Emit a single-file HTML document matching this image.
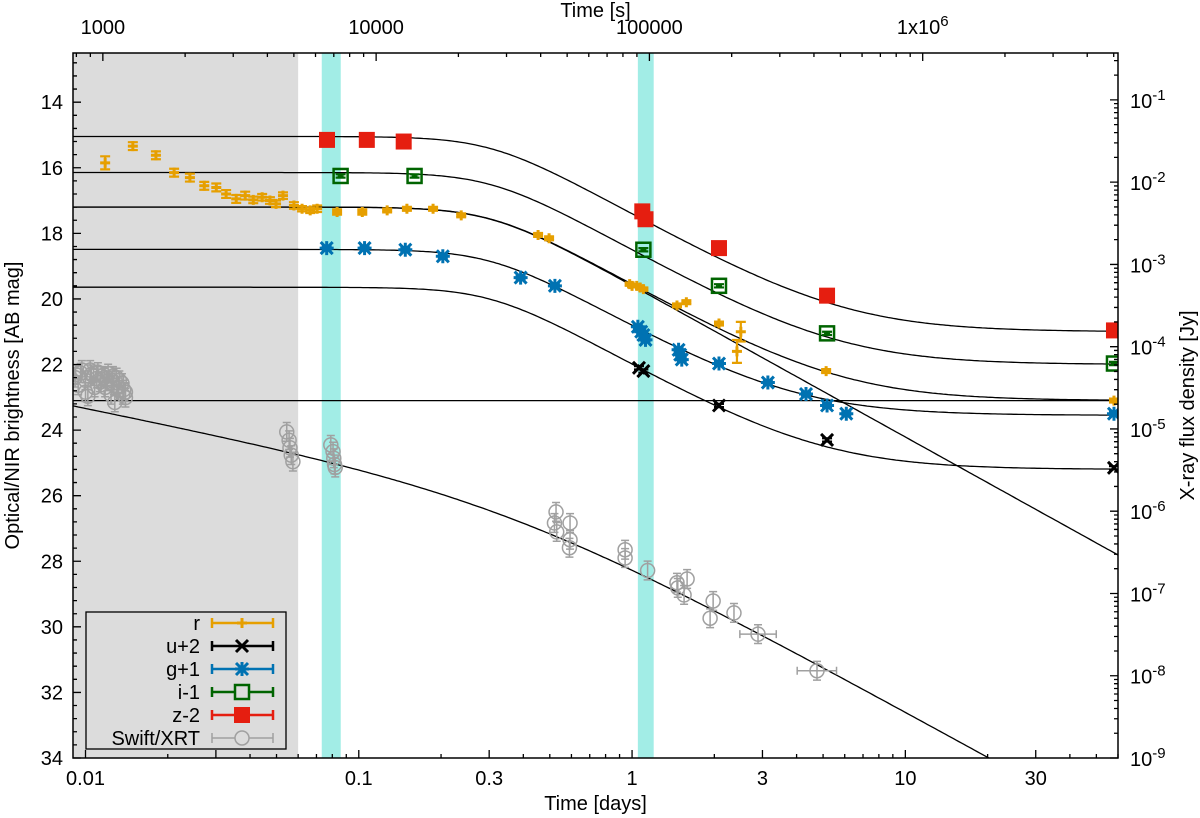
<!DOCTYPE html>
<html><head><meta charset="utf-8"><style>
body{margin:0;background:#fff;}
svg{display:block;font-family:"Liberation Sans",Arial,sans-serif;}
</style></head><body>
<svg id="chart" width="1200" height="818" viewBox="0 0 1200 818" xmlns="http://www.w3.org/2000/svg">
<defs><clipPath id="pc"><rect x="73" y="53" width="1045" height="705"/></clipPath></defs>
<g id="bg"></g>
<g id="models" clip-path="url(#pc)"></g>
<g id="data" clip-path="url(#pc)"></g>
<g id="axes"></g>
<g id="legend"></g>
</svg>
<script>
// ---------- data ----------
const rT=[0.0118,0.0149,0.0181,0.0211,0.0241,0.0272,0.0301,0.0327,0.0356,0.0384,0.0411,0.0443,0.0473,0.0498,0.0528,0.0579,0.0620,0.0664,0.0704,0.0833,0.103,0.127,0.150,0.187,0.237,0.453,0.497,0.98,1.0,1.04,1.07,1.10,1.46,1.58,2.08,2.50,2.42,5.13,58];
const rM=[15.85,15.34,15.62,16.15,16.3,16.55,16.6,16.8,16.95,16.85,16.98,16.9,17.0,17.1,16.85,17.15,17.25,17.3,17.25,17.35,17.35,17.3,17.25,17.25,17.45,18.05,18.15,19.55,19.6,19.6,19.65,19.7,20.2,20.1,20.75,21.0,21.6,22.2,23.1];
const rE=[0.2,0.12,0.12,0.12,0.12,0.12,0.12,0.12,0.12,0.12,0.1,0.1,0.1,0.1,0.1,0.1,0.08,0.08,0.1,0.08,0.08,0.06,0.06,0.06,0.06,0.06,0.06,0.05,0.05,0.05,0.05,0.05,0.06,0.06,0.06,0.3,0.35,0.06,0.06];
const uT=[1.06,1.10,2.08,5.17,58];
const uM=[22.1,22.2,23.25,24.3,25.15];
const gT=[0.0763,0.105,0.148,0.203,0.391,0.522,1.05,1.08,1.10,1.12,1.48,1.50,1.52,2.08,3.14,4.33,5.17,6.08,58];
const gM=[18.45,18.45,18.5,18.7,19.35,19.6,20.85,21.0,21.1,21.25,21.55,21.7,21.85,21.97,22.55,22.9,23.25,23.5,23.5];
const iT=[0.0858,0.160,1.10,2.08,5.17,58];
const iM=[16.25,16.25,18.5,19.6,21.05,21.97];
const zT=[0.0765,0.107,0.146,1.09,1.12,2.08,5.17,58];
const zM=[15.15,15.15,15.2,17.33,17.57,18.45,19.9,20.96];
const xT=[0.00916,0.0094,0.0097,0.0100,0.0104,0.0107,0.0111,0.0113,0.0117,0.0121,0.0125,0.0127,0.0130,0.0132,0.0136,0.0140,0.0100,0.0102,0.0124,0.0128,0.0140,0.0108,0.0118,0.0137,0.0092,0.0096,0.0105,0.0110,0.0115,0.0120,0.0126,0.0133,0.0138,
 0.0545,0.0556,0.0560,0.0566,0.0574,0.079,0.0805,0.081,0.0815,0.082,
 0.527,0.520,0.530,0.593,0.593,0.590,0.943,0.943,1.14,1.46,1.47,1.59,1.55,1.98,1.93,2.36,2.89,4.75];
const xF=[4.2e-5,3.4e-5,5.2e-5,3.9e-5,5.2e-5,4.4e-5,4.9e-5,3.7e-5,4.2e-5,4.7e-5,3.9e-5,3.4e-5,4.2e-5,3.2e-5,3.6e-5,2.8e-5,2.8e-5,2.5e-5,2.6e-5,2.1e-5,2.4e-5,3.2e-5,3.2e-5,2.6e-5,4.6e-5,4.8e-5,4.6e-5,4.1e-5,4.4e-5,3.8e-5,4.4e-5,3.9e-5,3.0e-5,
 9.2e-6,7.3e-6,5.9e-6,4.8e-6,4.0e-6,6.4e-6,5.3e-6,4.4e-6,3.7e-6,3.4e-6,
 9.8e-7,7.2e-7,5.6e-7,7.2e-7,4.5e-7,3.6e-7,3.4e-7,2.7e-7,1.9e-7,1.35e-7,1.17e-7,1.5e-7,9.6e-8,8.1e-8,5.0e-8,5.8e-8,3.2e-8,1.15e-8];
const xTlo=[2.48,4.02];
const xThi=[3.37,5.60];
const agPlateau=[15.05,16.15,17.2,18.5,19.65];
const hostMag=[21.0,22.0,23.1,23.55,25.2];
const agBreak=[0.305,1.85];
const xrtModel=[0.349,25.9,0.668,1.836];
const xTickLabels=["0.01","0.1","0.3","1","3","10","30"];
const xTickVals=[0.01,0.1,0.3,1,3,10,30];
const yTickVals=[14,16,18,20,22,24,26,28,30,32,34];
const sTickVals=[1000,10000,100000,1000000];
const fTickExp=[-1,-2,-3,-4,-5,-6,-7,-8,-9];

const L=73,R=1118,T=53,B=758;
const lt0=Math.log10(0.009),lt1=Math.log10(60);
const X=t=>L+(Math.log10(t)-lt0)/(lt1-lt0)*(R-L);
const Y=m=>T+(m-12.5)/21.5*(B-T);
const YF=f=>B-(Math.log10(f)+9)*(B-T)/(-0.43+9);
const NS="http://www.w3.org/2000/svg";
function el(tag,at,parent){const e=document.createElementNS(NS,tag);for(const k in at)e.setAttribute(k,at[k]);if(parent)parent.appendChild(e);return e;}
const bg=document.getElementById('bg'),mg=document.getElementById('models'),dg=document.getElementById('data'),ax=document.getElementById('axes'),lg=document.getElementById('legend');

let e=el('rect',{x:L,y:T,width:X(0.06)-L,height:B-T,fill:'#dcdcdc'},bg);


[[0.0732,0.0859],[1.05,1.2]].forEach((b,i)=>{
 const r=el('rect',{x:X(b[0]),y:T,width:X(b[1])-X(b[0]),height:B-T,fill:'#a2ede6'},bg);
 
 
});

function agMag(t,m0){return m0+1.25*Math.log10(1+Math.pow(t/agBreak[0],agBreak[1]*2));}
function comb(a,b){return -2.5*Math.log10(Math.pow(10,-0.4*a)+Math.pow(10,-0.4*b));}
function pathOf(fn){let d='';for(let i=0;i<=400;i++){const lt=lt0+(lt1-lt0)*i/400;const t=Math.pow(10,lt);d+=(i?'L':'M')+X(t).toFixed(1)+' '+Y(fn(t)).toFixed(1);}return d;}
const bandNames=['z','i','r','g','u'];
agPlateau.forEach((m0,i)=>{
 const p=el('path',{d:pathOf(t=>comb(agMag(t,m0),hostMag[i])),fill:'none',stroke:'#000','stroke-width':1.3},mg);
 
 
});
let p=el('path',{d:pathOf(t=>agMag(t,agPlateau[2])),fill:'none',stroke:'#000','stroke-width':1.3},mg);


p=el('path',{d:pathOf(()=>hostMag[2]),fill:'none',stroke:'#000','stroke-width':1.3},mg);


p=el('path',{d:pathOf(t=>{const u=t/xrtModel[0];return xrtModel[1]+2.5*Math.log10(Math.pow(u,xrtModel[2])+Math.pow(u,xrtModel[3]));}),fill:'none',stroke:'#000','stroke-width':1.3},mg);



function marker(g,type,x,y,c){
 if(type==='plus'){el('path',{d:`M${x-5} ${y}H${x+5}M${x} ${y-5}V${y+5}`,stroke:c,'stroke-width':3},g);}
 if(type==='cross'){el('path',{d:`M${x-6} ${y-6}L${x+6} ${y+6}M${x-6} ${y+6}L${x+6} ${y-6}`,stroke:c,'stroke-width':3},g);}
 if(type==='star'){el('path',{d:`M${x-6} ${y-6}L${x+6} ${y+6}M${x-6} ${y+6}L${x+6} ${y-6}M${x} ${y-7}V${y+7}M${x-7} ${y}H${x+7}`,stroke:c,'stroke-width':3},g);}
 if(type==='osq'){el('rect',{x:x-7,y:y-7,width:14,height:14,fill:'none',stroke:c,'stroke-width':2.5},g);el('path',{d:`M${x-3} ${y}H${x+3}`,stroke:c,'stroke-width':1.5},g);}
 if(type==='fsq'){el('rect',{x:x-8,y:y-8,width:16,height:16,fill:c},g);}
 if(type==='circ'){el('circle',{cx:x,cy:y,r:7,fill:'none',stroke:c,'stroke-width':1.5},g);}
}
function series(name,T_,M_,E_,type,c){
 const g=el('g',{},dg);
 
 
 T_.forEach((t,i)=>{
  const x=X(t),y=Y(M_[i]);const er=E_?E_[i]:0.05;
  const y1=Y(M_[i]-er),y2=Y(M_[i]+er);
  el('path',{d:`M${x} ${y1}V${y2}M${x-5} ${y1}H${x+5}M${x-5} ${y2}H${x+5}`,stroke:c,'stroke-width':2.2},g);
  marker(g,type,x,y,c);
 });
}
(function(){
 const g=el('g',{},dg);
 
 
 const c='#a0a0a0';
 xT.forEach((t,i)=>{
  const x=X(t),y=YF(xF[i]);const y1=YF(xF[i]*1.3),y2=YF(xF[i]/1.3);
  el('path',{d:`M${x} ${y1}V${y2}M${x-4} ${y1}H${x+4}M${x-4} ${y2}H${x+4}`,stroke:c,'stroke-width':1.5},g);
  const k=i-(xT.length-2);
  if(k>=0){const a=X(xTlo[k]),b=X(xThi[k]);el('path',{d:`M${a} ${y}H${b}M${a} ${y-4}V${y+4}M${b} ${y-4}V${y+4}`,stroke:c,'stroke-width':1.5},g);}
  marker(g,'circ',x,y,c);
 });
})();
series('r',rT,rM,rE,'plus','#e69f00');
series('u',uT,uM,null,'cross','#000000');
series('g',gT,gM,null,'star','#0072b2');
series('i',iT,iM,null,'osq','#006400');
series('z',zT,zM,null,'fsq','#e51e10');

let f=el('rect',{x:L,y:T,width:R-L,height:B-T,fill:'none',stroke:'#000','stroke-width':1.5},ax);


function txt(s,x,y,anchor,size,name){const t=el('text',{x:x,y:y,'text-anchor':anchor,'font-size':size,fill:'#000'},ax);t.textContent=s;return t;}
let tk='';
for(let d=-2;d<=1;d++)for(let k=1;k<=9;k++){const t=k*Math.pow(10,d);if(t<0.009||t>60)continue;const x=X(t);const big=(k===1||k===3);tk+=`M${x} ${B}V${B-(big?8:4)}`;}
xTickVals.forEach((v,i)=>txt(xTickLabels[i],X(v),B+27,'middle',20,'x-tick-label'));
for(let d=2;d<=6;d++)for(let k=1;k<=9;k++){const s=k*Math.pow(10,d);const t=s/86400;if(t<0.009||t>60)continue;const x=X(t);tk+=`M${x} ${T}V${T+(k===1?8:4)}`;}
sTickVals.forEach(s=>{const x=X(s/86400);if(s===1000000){const t=txt('',x,34,'middle',20,'top-tick-label');t.innerHTML='1x10<tspan dy="-8" font-size="15">6</tspan>';}else txt(String(s),x,34,'middle',20,'top-tick-label');});
for(let m=12.8;m<=34.01;m+=0.4){const y=Y(m);const big=Math.abs(m/2-Math.round(m/2))<0.01;tk+=`M${L} ${y}H${L+(big?8:4)}`;}
yTickVals.forEach(v=>txt(String(v),L-10,Y(v)+7,'end',20,'y-tick-label'));
for(let d=-10;d<=0;d++)for(let k=1;k<=9;k++){const fv=k*Math.pow(10,d);const y=YF(fv);if(y<T-0.5||y>B+0.5)continue;tk+=`M${R} ${y}H${R-(k===1?8:4)}`;}
fTickExp.forEach(p=>{const t=txt('',R+12,YF(Math.pow(10,p))+8,'start',20,'right-tick-label');t.innerHTML='10<tspan dy="-8" font-size="15">'+p+'</tspan>';});
el('path',{d:tk,stroke:'#000','stroke-width':1.3,fill:'none'},ax);
txt('Time [days]',(L+R)/2,810,'middle',20,'x-axis-title');
txt('Time [s]',(L+R)/2,17,'middle',20,'top-axis-title');
let yt=txt('Optical/NIR brightness [AB mag]',0,0,'middle',20,'y-axis-title');yt.setAttribute('transform',`translate(19 ${(T+B)/2}) rotate(-90)`);
let yr=txt('X-ray flux density [Jy]',0,0,'middle',20,'right-axis-title');yr.setAttribute('transform',`translate(1194 ${(T+B)/2}) rotate(-90)`);

const lb=el('rect',{x:86,y:612,width:200,height:137,fill:'none',stroke:'#000','stroke-width':1.3},lg);


const legNames=['r','u+2','g+1','i-1','z-2','Swift/XRT'];
const legTypes=['plus','cross','star','osq','fsq','circ'];
const legColors=['#e69f00','#000000','#0072b2','#006400','#e51e10','#a0a0a0'];
legNames.forEach((n,i)=>{
 const y=623+i*23;
 const g=el('g',{},lg);
 
 
 const t=el('text',{x:200,y:y+7,'text-anchor':'end','font-size':20},g);t.textContent=n;
 const c=legColors[i],w=i===5?1.5:2.5;
 el('path',{d:`M212 ${y}H273M212 ${y-5}V${y+5}M273 ${y-5}V${y+5}`,stroke:c,'stroke-width':w},g);
 if(i===5)el('circle',{cx:242,cy:y,r:7,fill:'#dcdcdc',stroke:c,'stroke-width':1.5},g);
 else if(i===3){el('rect',{x:235,y:y-7,width:14,height:14,fill:'#dcdcdc',stroke:c,'stroke-width':2.5},g);}
 else marker(g,legTypes[i],242,y,c);
});
</script>
</body></html>
